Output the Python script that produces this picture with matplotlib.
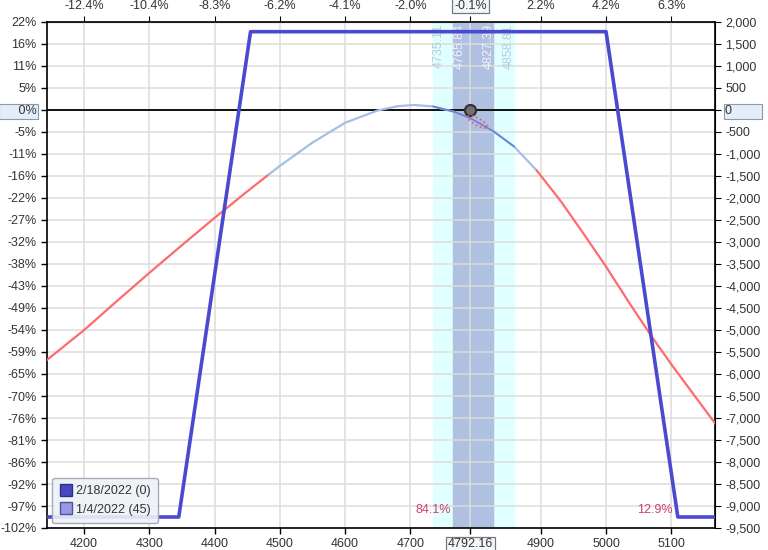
import numpy as np
import matplotlib
matplotlib.use('Agg')
import matplotlib.pyplot as plt
from matplotlib.patches import Ellipse
from matplotlib.lines import Line2D
from matplotlib.transforms import IdentityTransform

plt.rcParams['font.family'] = ['Liberation Sans', 'DejaVu Sans']

# expiration P&L (2/18/2022)
exp_price = [4143, 4345, 4455, 5000, 5110, 5167]
exp_pnl = [-9250, -9250, 1780, 1780, -9250, -9250]

# T+0 P&L (1/4/2022)
t0_price = [4143, 4200, 4250, 4300, 4350, 4400, 4450, 4483, 4500, 4550, 4600, 4650, 4680,
            4705, 4735, 4767, 4792, 4828, 4859, 4894, 4930, 4965, 5000, 5035, 5070, 5101,
            5135, 5167]
t0_pnl = [-5680, -5000, -4345, -3700, -3070, -2450, -1850, -1465, -1270, -740, -290, -10, 85,
          115, 80, -40, -185, -490, -830, -1380, -2060, -2800, -3560, -4370, -5150, -5800,
          -6480, -7120]

xticks = [4200, 4300, 4400, 4500, 4600, 4700, 4792.16, 4900, 5000, 5100]
xlabels = ['4200', '4300', '4400', '4500', '4600', '4700', '4792.16', '4900', '5000', '5100']
top_labels = ['-12.4%', '-10.4%', '-8.3%', '-6.2%', '-4.1%', '-2.0%', '-0.1%', '2.2%', '4.2%', '6.3%']
yticks = list(range(2000, -10000, -500))
pct_labels = ['22%', '16%', '11%', '5%', '0%', '-5%', '-11%', '-16%', '-22%', '-27%', '-32%',
              '-38%', '-43%', '-49%', '-54%', '-59%', '-65%', '-70%', '-76%', '-81%', '-86%',
              '-92%', '-97%', '-102%']

sd1 = (4735.11, 4858.81)
sd_half = (4765.84, 4827.39)
spot = 4792.16

fig = plt.figure(figsize=(7.68, 5.5), dpi=100)
ax = fig.add_axes([47 / 768, 1 - 528 / 550, 668 / 768, 506 / 550])
ax.set_xlim(4143, 5167)
ax.set_ylim(-9500, 2000)

# bands
ax.axvspan(*sd1, color='#e0ffff', zorder=0)
ax.axvspan(*sd_half, color='#b0c0e0', zorder=0.5)

zero_i = yticks.index(0)
pct_labels[zero_i] = '     0%'
ax.set_xticks(xticks)
ax.set_xticklabels(xlabels)
ax.set_yticks(yticks)
ax.set_yticklabels(pct_labels)
ax.grid(True, color='#dcdcdc', lw=1.1, zorder=1)
ax.set_axisbelow(True)

ax.axhline(0, color='black', lw=1.3, zorder=2)

# T+0 line, colored by region
px = np.array(t0_price, dtype=float)
py = np.array(t0_pnl, dtype=float)
left = px <= 4483
mid = (px >= 4483) & (px <= 4894)
right = px >= 4894
ax.plot(px[left], py[left], color='#ff6b6b', lw=1.6, zorder=3)
ax.plot(px[mid], py[mid], color='#a4bfe4', lw=1.6, zorder=3)
ax.plot(px[right], py[right], color='#ff6b6b', lw=1.6, zorder=3)
inband = (px >= 4735) & (px <= 4859)
ax.plot(px[inband], py[inband], color='#6a7fd6', lw=1.2, zorder=3)

# expiration line
ax.plot(exp_price, exp_pnl, color='#4a4ad0', lw=2.6, zorder=4, solid_joinstyle='round')

# current price marker
ax.plot([spot], [0], marker='o', ms=8, mfc='#707070', mec='#303030', mew=1.5, zorder=5)
cx, cy = ax.transData.transform((4803, -270))
ax.add_patch(Ellipse((cx, cy), 22, 7, angle=-30, transform=IdentityTransform(),
                     fill=False, ec='#ff5050', ls=':', lw=1.2, zorder=5))

# band edge labels
for xv, c, off in [(sd1[0], '#b8cade', 9), (sd_half[0], '#f0f4fa', 10),
                   (sd_half[1], '#f0f4fa', -8), (sd1[1], '#b8cade', -8)]:
    ax.text(xv + off, 1950, f'{xv:.2f}', rotation=90, ha='center', va='top',
            fontsize=9, color=c, zorder=3)

# probability labels
ax.text(4735, -9100, '84.1%', color='#d0406a', fontsize=9, ha='center', va='center', zorder=5)
ax.text(5075, -9100, '12.9%', color='#d0406a', fontsize=9, ha='center', va='center', zorder=5)

for s in ax.spines.values():
    s.set_color('black')
    s.set_linewidth(1.2)
ax.tick_params(axis='both', direction='out', length=4, color='black', labelsize=9,
               labelcolor='#333333', width=1)

# top axis percent labels
secx = ax.secondary_xaxis('top')
secx.set_xticks(xticks)
secx.set_xticklabels(top_labels)
secx.tick_params(direction='out', length=4, labelsize=9, labelcolor='#333333')

# right axis dollars
secy = ax.secondary_yaxis('right')
secy.set_yticks(yticks)
rlabels = [f'{v:,}' for v in yticks]
rlabels[zero_i] = '0        '
secy.set_yticklabels(rlabels)
secy.tick_params(direction='out', length=4, labelsize=9, labelcolor='#333333')

box = dict(boxstyle='square,pad=0.15', fc='#e4eef8', ec='#8a9aae', lw=0.8)
ax.get_yticklabels()[zero_i].set_bbox(box)
secy.get_yticklabels()[zero_i].set_bbox(box)
box2 = dict(boxstyle='square,pad=0.15', fc='#f4f6f8', ec='#707a86', lw=0.9)
ax.get_xticklabels()[6].set_bbox(box2)
secx.get_xticklabels()[6].set_bbox(box2)

# legend
handles = [Line2D([], [], ls='none', marker='s', ms=8, mfc='#4848c0', mec='#30308a'),
           Line2D([], [], ls='none', marker='s', ms=8, mfc='#9a9ae0', mec='#5050a0')]
leg = ax.legend(handles, ['2/18/2022 (0)', '1/4/2022 (45)'], loc='lower left',
                bbox_to_anchor=(0.0, 0.0), borderaxespad=0.4, fontsize=9, frameon=True,
                fancybox=True, handletextpad=0.3, borderpad=0.6, labelspacing=0.5,
                handlelength=1.0)
leg.get_frame().set_facecolor('#edf2f7')
leg.get_frame().set_edgecolor('#9aa4b0')
leg.get_frame().set_alpha(0.9)
for t in leg.get_texts():
    t.set_color('#333333')

fig.savefig('out.png', dpi=100)
